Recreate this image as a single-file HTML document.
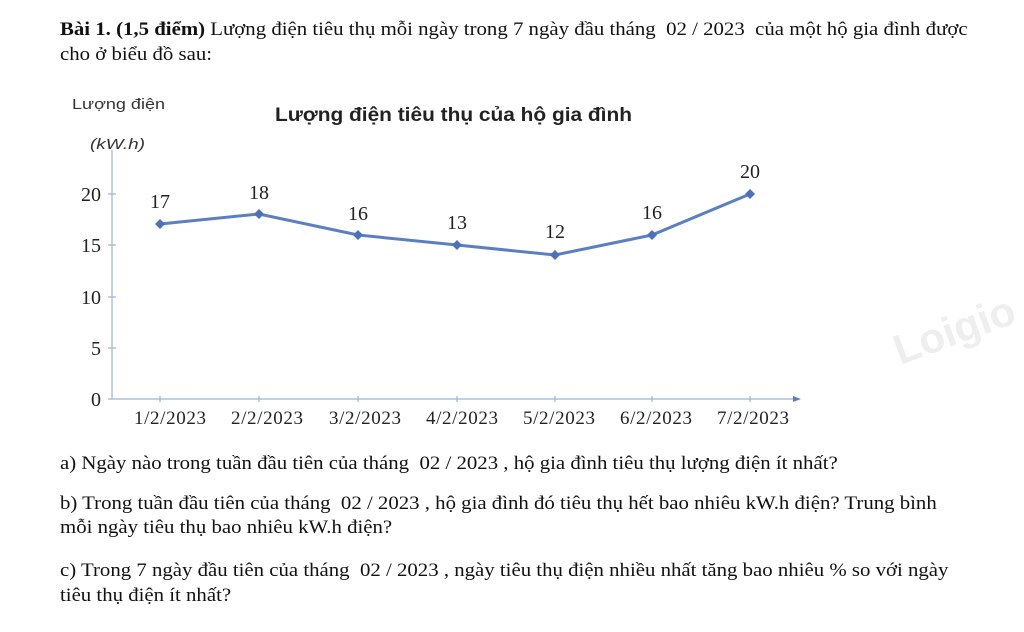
<!DOCTYPE html>
<html><head><meta charset="utf-8"><style>
body{margin:0;width:1024px;height:632px;background:#fff;position:relative;overflow:hidden;font-family:"Liberation Serif",serif;color:#111}
.t{position:absolute;font-size:18.5px;white-space:nowrap;transform:scaleX(1.125);transform-origin:0 0}
</style></head><body>
<div class="t" style="left:60px;top:20px">
<b>Bài 1. (1,5 điểm)</b> Lượng điện tiêu thụ mỗi ngày trong 7 ngày đầu tháng &nbsp;02 / 2023 &nbsp;của một hộ gia đình được</div>
<div class="t" style="left:60px;top:45px">cho ở biểu đồ sau:</div>
<svg width="1024" height="632" style="position:absolute;left:0;top:0">
<g font-family="Liberation Sans,sans-serif" fill="#333">
<text x="72" y="109" font-size="15" textLength="93" lengthAdjust="spacingAndGlyphs">Lượng điện</text>
<text x="90" y="149" font-size="15" font-style="italic" textLength="55" lengthAdjust="spacingAndGlyphs">(kW.h)</text>
<text x="275" y="121" font-size="19" font-weight="bold" fill="#222" textLength="357" lengthAdjust="spacingAndGlyphs">Lượng điện tiêu thụ của hộ gia đình</text>
</g>
<g stroke="#9bb5d6" stroke-width="1.2" fill="none">
<line x1="112" y1="150" x2="112" y2="399"/>
<line x1="108" y1="399" x2="795" y2="399"/>
<line x1="108" y1="194" x2="116" y2="194"/><line x1="108" y1="245" x2="116" y2="245"/>
<line x1="108" y1="297" x2="116" y2="297"/><line x1="108" y1="348" x2="116" y2="348"/>
<line x1="160" y1="396" x2="160" y2="402"/><line x1="259" y1="396" x2="259" y2="402"/>
<line x1="358" y1="396" x2="358" y2="402"/><line x1="457" y1="396" x2="457" y2="402"/>
<line x1="555" y1="396" x2="555" y2="402"/><line x1="652" y1="396" x2="652" y2="402"/>
<line x1="750" y1="396" x2="750" y2="402"/>
</g>
<polygon points="793,396 801,399 793,402" fill="#5b7fc0"/>
<polyline points="160,224 259,214 358,235 457,245 555,255 652,235 750,194" fill="none" stroke="#5b7fc0" stroke-width="3"/>
<g fill="#4a72bb">
<polygon points="160,219 165,224 160,229 155,224"/><polygon points="259,209 264,214 259,219 254,214"/>
<polygon points="358,230 363,235 358,240 353,235"/><polygon points="457,240 462,245 457,250 452,245"/>
<polygon points="555,250 560,255 555,260 550,255"/><polygon points="652,230 657,235 652,240 647,235"/>
<polygon points="750,189 755,194 750,199 745,194"/>
</g>
<g font-family="Liberation Serif,serif" font-size="20" fill="#222" text-anchor="middle">
<text x="160" y="208">17</text><text x="259" y="199">18</text><text x="358" y="220">16</text>
<text x="457" y="229">13</text><text x="555" y="238">12</text><text x="652" y="219">16</text><text x="750" y="178">20</text>
</g>
<g font-family="Liberation Serif,serif" font-size="20" fill="#222" text-anchor="end">
<text x="101" y="201">20</text><text x="101" y="252">15</text><text x="101" y="304">10</text>
<text x="101" y="355">5</text><text x="101" y="406">0</text>
</g>
<g font-family="Liberation Serif,serif" font-size="19" fill="#222" text-anchor="middle" lengthAdjust="spacingAndGlyphs">
<text x="170" y="424" textLength="72">1/2/2023</text><text x="267" y="424" textLength="72">2/2/2023</text><text x="365" y="424" textLength="72">3/2/2023</text>
<text x="462" y="424" textLength="72">4/2/2023</text><text x="559" y="424" textLength="72">5/2/2023</text><text x="656" y="424" textLength="72">6/2/2023</text>
<text x="753" y="424" textLength="72">7/2/2023</text>
</g>
<text x="900" y="365" font-family="Liberation Sans,sans-serif" font-size="42" font-weight="bold" fill="#eee" transform="rotate(-20 900 365)">Loigio</text>
</svg>
<div class="t" style="left:60px;top:454px">a) Ngày nào trong tuần đầu tiên của tháng &nbsp;02 / 2023 , hộ gia đình tiêu thụ lượng điện ít nhất?</div>
<div class="t" style="left:60px;top:494px">b) Trong tuần đầu tiên của tháng &nbsp;02 / 2023 , hộ gia đình đó tiêu thụ hết bao nhiêu kW.h điện? Trung bình</div>
<div class="t" style="left:60px;top:518px">mỗi ngày tiêu thụ bao nhiêu kW.h điện?</div>
<div class="t" style="left:60px;top:561px">c) Trong 7 ngày đầu tiên của tháng &nbsp;02 / 2023 , ngày tiêu thụ điện nhiều nhất tăng bao nhiêu % so với ngày</div>
<div class="t" style="left:60px;top:586px">tiêu thụ điện ít nhất?</div>
</body></html>
